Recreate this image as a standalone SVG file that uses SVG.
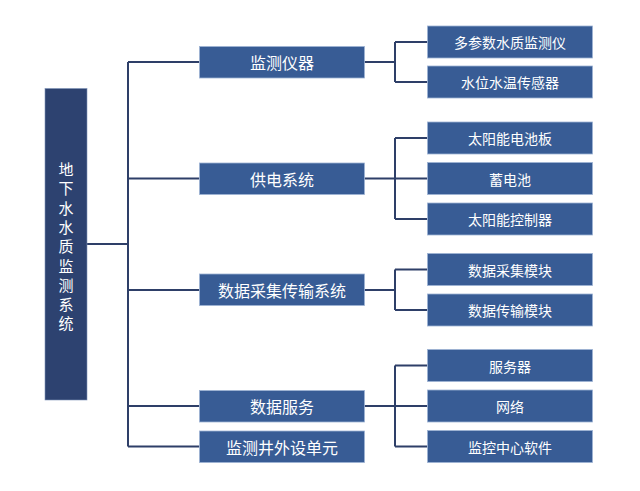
<svg xmlns="http://www.w3.org/2000/svg" width="640" height="491" viewBox="0 0 640 491">
<style>
.root{fill:#2d4270;stroke:#7f93b8;stroke-width:0.6}
.box{fill:#385c95;stroke:#9fb3d4;stroke-width:0.8}
.t1{font-family:"Noto Sans CJK SC","Noto Sans",sans-serif;font-size:16px;fill:#ffffff;text-anchor:middle;dominant-baseline:central}
.t2{font-family:"Noto Sans CJK SC","Noto Sans",sans-serif;font-size:14px;fill:#ffffff;text-anchor:middle;dominant-baseline:central}
.tr{font-family:"Noto Sans CJK SC","Noto Sans",sans-serif;font-size:15px;fill:#ffffff;text-anchor:middle;dominant-baseline:central}
.ln{fill:none;stroke:#2e3f68;stroke-width:2}
</style>
<rect width="640" height="491" fill="#ffffff"/>
<g id="connectors">
<path class="ln" d="M87 244H128M128 62V446.5M128 62H199.5M128 178.5H199.5M128 290H199.5M128 406H199.5M128 446.5H199.5"/>
<path class="ln" d="M364 62H395M395 42V82M395 42H427.5M395 82H427.5"/>
<path class="ln" d="M364 178.5H427.5M395 138V219M395 138H427.5M395 219H427.5"/>
<path class="ln" d="M364 290H395M395 269.5V310M395 269.5H427.5M395 310H427.5"/>
<path class="ln" d="M364 406H427.5M395 365.5V446.5M395 365.5H427.5M395 446.5H427.5"/>
</g>
<g id="root">
<rect class="root" x="45" y="88.5" width="42" height="311.5"/>
<text class="tr" x="66"><tspan x="66" y="168">地</tspan><tspan x="66" y="187.3">下</tspan><tspan x="66" y="206.6">水</tspan><tspan x="66" y="225.9">水</tspan><tspan x="66" y="245.2">质</tspan><tspan x="66" y="264.5">监</tspan><tspan x="66" y="283.8">测</tspan><tspan x="66" y="303.1">系</tspan><tspan x="66" y="322.4">统</tspan></text>
</g>
<g id="n1"><rect class="box" x="199.5" y="46.5" width="165" height="31.5"/><text class="t1" x="282" y="62">监测仪器</text></g>
<g id="n2"><rect class="box" x="199.5" y="163" width="165" height="31.5"/><text class="t1" x="282" y="178.5">供电系统</text></g>
<g id="n3"><rect class="box" x="199.5" y="274" width="165" height="31.5"/><text class="t1" x="282" y="290">数据采集传输系统</text></g>
<g id="n4"><rect class="box" x="199.5" y="390.5" width="165" height="31.5"/><text class="t1" x="282" y="406">数据服务</text></g>
<g id="n5"><rect class="box" x="199.5" y="431" width="165" height="31.5"/><text class="t1" x="282" y="446.5">监测井外设单元</text></g>
<g id="n1a"><rect class="box" x="427.5" y="26" width="165" height="32"/><text class="t2" x="510" y="42">多参数水质监测仪</text></g>
<g id="n1b"><rect class="box" x="427.5" y="66" width="165" height="32"/><text class="t2" x="510" y="82">水位水温传感器</text></g>
<g id="n2a"><rect class="box" x="427.5" y="122" width="165" height="32"/><text class="t2" x="510" y="138">太阳能电池板</text></g>
<g id="n2b"><rect class="box" x="427.5" y="162.5" width="165" height="32"/><text class="t2" x="510" y="178.5">蓄电池</text></g>
<g id="n2c"><rect class="box" x="427.5" y="203" width="165" height="32"/><text class="t2" x="510" y="219">太阳能控制器</text></g>
<g id="n3a"><rect class="box" x="427.5" y="253.5" width="165" height="32"/><text class="t2" x="510" y="269.5">数据采集模块</text></g>
<g id="n3b"><rect class="box" x="427.5" y="294" width="165" height="32"/><text class="t2" x="510" y="310">数据传输模块</text></g>
<g id="n4a"><rect class="box" x="427.5" y="349.5" width="165" height="32"/><text class="t2" x="510" y="365.5">服务器</text></g>
<g id="n4b"><rect class="box" x="427.5" y="390" width="165" height="32"/><text class="t2" x="510" y="406">网络</text></g>
<g id="n4c"><rect class="box" x="427.5" y="430.5" width="165" height="32"/><text class="t2" x="510" y="446.5">监控中心软件</text></g>
</svg>
